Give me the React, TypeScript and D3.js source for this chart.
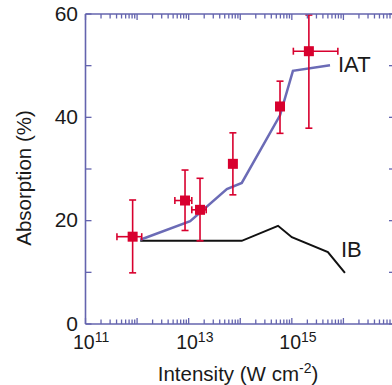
import React from "react";
import * as d3 from "d3";

// Data (intensity in W cm^-2, absorption in %)
const pointIntensity = [8.2e11, 8.5e12, 1.66e13, 7.2e13, 5.9e14, 2.14e15];
const pointAbsorption = [16.9, 23.9, 22.1, 31.0, 42.1, 52.8];
const errYLow = [9.9, 18.1, 16.1, 25.0, 36.9, 37.9];
const errYHigh = [24.0, 29.8, 28.2, 37.0, 47.0, 59.8];
const errXLow = [4.07e11, 5.4e12, 1.15e13, null, null, 1.07e15];
const errXHigh = [1.23e12, 1.15e13, 2.19e13, null, null, 7.8e15];

const iatIntensity = [1.15e12, 1.07e13, 5.5e13, 1.07e14, 5.9e14, 1.05e15, 5.5e15];
const iatAbsorption = [16.3, 19.9, 26.1, 27.3, 40.4, 49.0, 50.1];

const ibIntensity = [1.15e12, 1.07e14, 5.4e14, 1.0e15, 5.0e15, 1.07e16];
const ibAbsorption = [16.1, 16.1, 19.0, 16.8, 13.9, 9.9];

const yTickValues = [0, 20, 40, 60];
const yMinorTicks = [10, 30, 50];
const xLabelExponents = [11, 13, 15];

const W = 392;
const H = 385;
const AXIS = "#6464ae";
const RED = "#d8002e";
const IATC = "#6b6bb6";
const FONT = "'Liberation Sans', Arial, Helvetica, sans-serif";

export default function App() {
  const x = d3.scaleLog().domain([1e11, 1e17]).range([85.5, 395]);
  const y = d3.scaleLinear().domain([0, 60]).range([324, 14]);
  const [x0, x1] = x.range();
  const [yb, yt] = y.range();

  const xTicks: { v: number; major: boolean }[] = [];
  for (let e = 11; e < 17; e++) {
    for (let m = 1; m <= 9; m++) {
      const v = m * Math.pow(10, e);
      xTicks.push({ v, major: m === 1 });
    }
  }

  const line = d3
    .line<[number, number]>()
    .x((d) => x(d[0]))
    .y((d) => y(d[1]));

  const iatData: [number, number][] = iatIntensity.map((v, i) => [v, iatAbsorption[i]]);
  const ibData: [number, number][] = ibIntensity.map((v, i) => [v, ibAbsorption[i]]);

  const cap = 3.5;
  const sq = 10;

  return (
    <svg
      width={W}
      height={H}
      style={{ position: "absolute", left: 0, top: 0, background: "#fff" }}
      fontFamily={FONT}
    >
      {/* lines */}
      <path d={line(ibData) || ""} fill="none" stroke="#111" strokeWidth={2} />
      <path d={line(iatData) || ""} fill="none" stroke={IATC} strokeWidth={2.5} />

      {/* error bars */}
      {pointIntensity.map((v, i) => {
        const cx = x(v);
        const lo = y(errYLow[i]);
        const hi = y(errYHigh[i]);
        const xl = errXLow[i];
        const xh = errXHigh[i];
        const cy = y(pointAbsorption[i]);
        return (
          <g key={"e" + i} stroke={RED} strokeWidth={1.6}>
            <line x1={cx} x2={cx} y1={lo} y2={hi} />
            <line x1={cx - cap} x2={cx + cap} y1={lo} y2={lo} />
            <line x1={cx - cap} x2={cx + cap} y1={hi} y2={hi} />
            {xl != null && xh != null && (
              <>
                <line x1={x(xl)} x2={x(xh)} y1={cy} y2={cy} />
                <line x1={x(xl)} x2={x(xl)} y1={cy - cap} y2={cy + cap} />
                <line x1={x(xh)} x2={x(xh)} y1={cy - cap} y2={cy + cap} />
              </>
            )}
          </g>
        );
      })}
      {pointIntensity.map((v, i) => (
        <rect
          key={"p" + i}
          x={x(v) - sq / 2}
          y={y(pointAbsorption[i]) - sq / 2}
          width={sq}
          height={sq}
          fill={RED}
        />
      ))}

      {/* frame */}
      <g stroke={AXIS} strokeWidth={1.6} fill="none">
        <line x1={x0} x2={x1} y1={yb} y2={yb} />
        <line x1={x0} x2={x1} y1={yt} y2={yt} />
        <line x1={x0} x2={x0} y1={yt} y2={yb} />
        <line x1={x1} x2={x1} y1={yt} y2={yb} />
      </g>
      <g stroke={AXIS} strokeWidth={1.3}>
        {xTicks.map((t, i) => {
          const px = x(t.v);
          const len = t.major ? 6 : 4.5;
          return (
            <g key={"xt" + i}>
              <line x1={px} x2={px} y1={yb} y2={yb - len} />
              <line x1={px} x2={px} y1={yt} y2={yt + len} />
            </g>
          );
        })}
        {[...yTickValues, ...yMinorTicks].map((v, i) => (
          <g key={"yt" + i}>
            <line x1={x0} x2={x0 + 6} y1={y(v)} y2={y(v)} />
            <line x1={x1} x2={x1 - 6} y1={y(v)} y2={y(v)} />
          </g>
        ))}
      </g>

      {/* y tick labels */}
      {yTickValues.map((v) => (
        <text
          key={"yl" + v}
          x={78}
          y={y(v) + 6.5}
          textAnchor="end"
          fontSize={21}
          fill="#1a1a1a"
        >
          {v}
        </text>
      ))}

      {/* x tick labels */}
      {xLabelExponents.map((e) => (
        <text key={"xl" + e} x={x(Math.pow(10, e)) - 12.5} y={349} fontSize={19.5} fill="#1a1a1a">
          10
          <tspan fontSize={14} dy={-7.5}>
            {e}
          </tspan>
        </text>
      ))}

      {/* axis titles */}
      <text x={238} y={381} textAnchor="middle" fontSize={20.5} fill="#1a1a1a">
        Intensity (W cm
        <tspan fontSize={14} dy={-8}>
          -2
        </tspan>
        <tspan dy={8}>)</tspan>
      </text>
      <text
        transform="translate(31,178) rotate(-90)"
        textAnchor="middle"
        fontSize={20.5}
        fill="#1a1a1a"
      >
        Absorption (%)
      </text>

      {/* series labels */}
      <text x={338} y={72} fontSize={22} fill="#1a1a1a">
        IAT
      </text>
      <text x={341} y={257} fontSize={22} fill="#1a1a1a">
        IB
      </text>
    </svg>
  );
}
